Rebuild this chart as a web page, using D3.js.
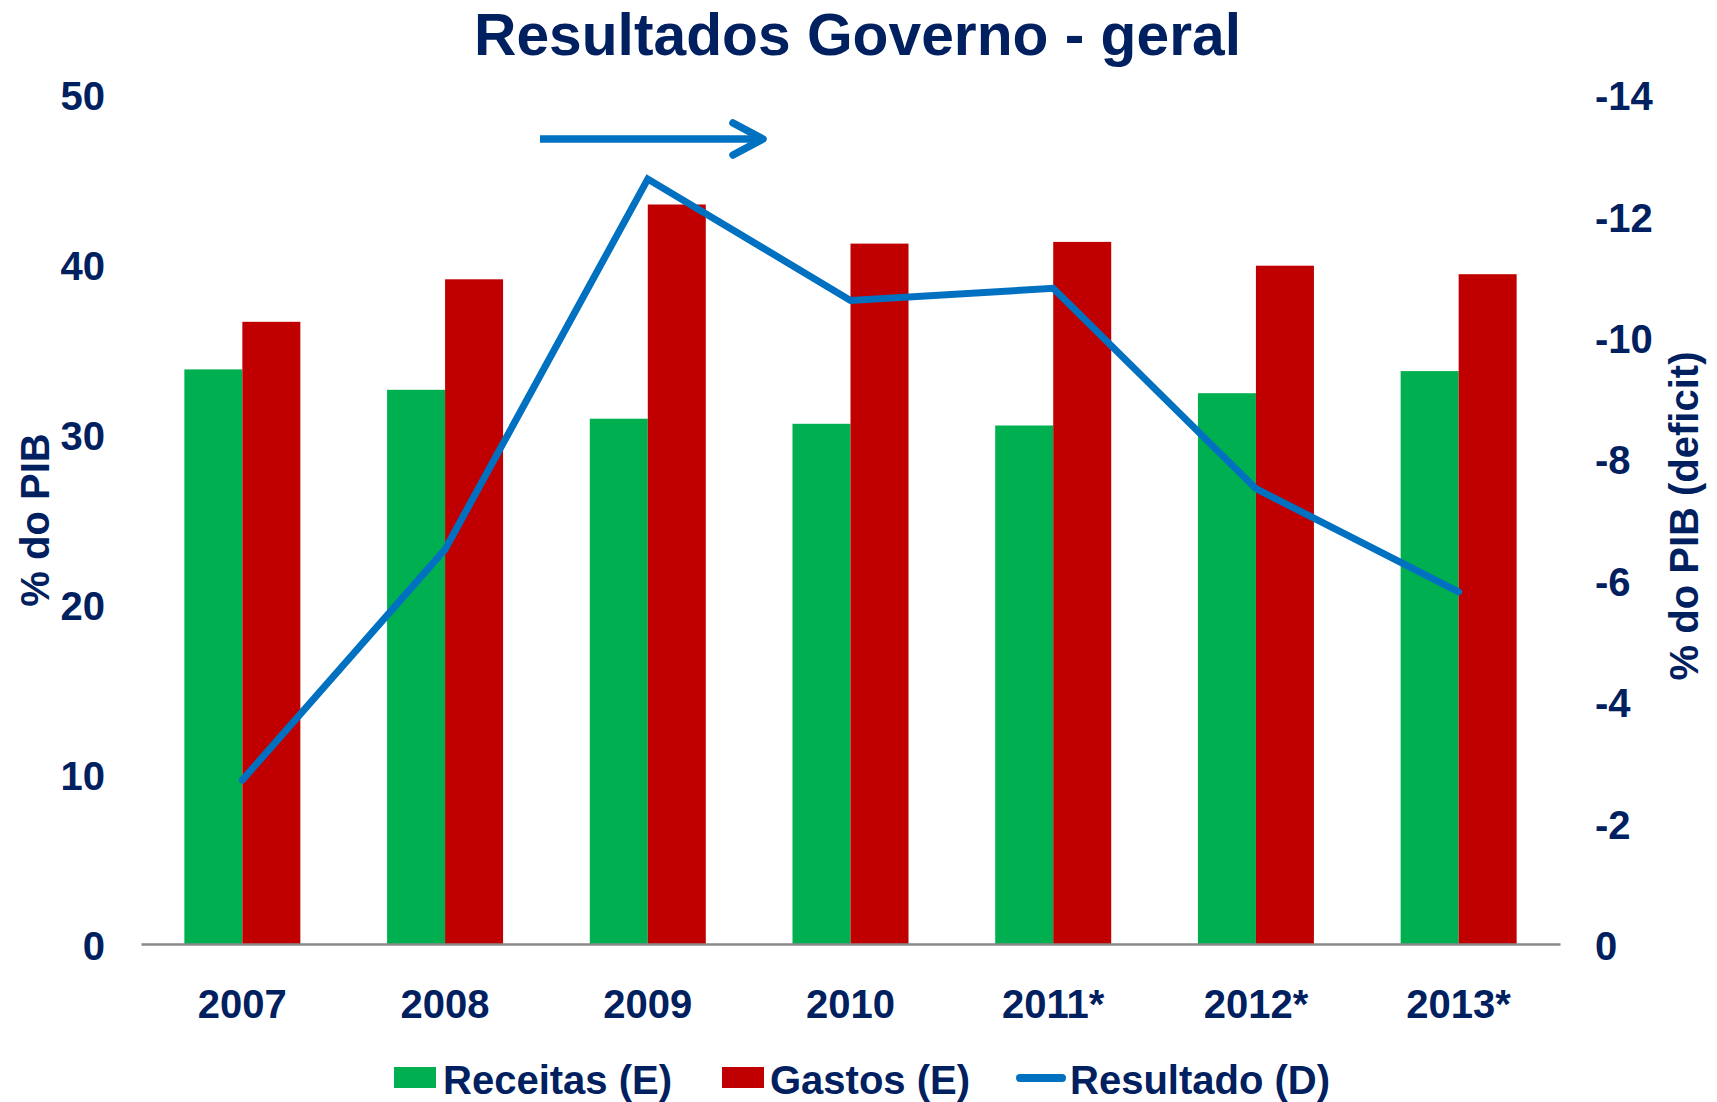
<!DOCTYPE html>
<html>
<head>
<meta charset="utf-8">
<script src="https://cdn.jsdelivr.net/npm/d3@7"></script>
<style>
  html, body { margin: 0; padding: 0; background: #ffffff; }
  svg { display: block; }
  text { font-family: "Liberation Sans", Arial, Helvetica, sans-serif; font-weight: bold; fill: #002060; }
</style>
</head>
<body>
<script>
// ---- data ----
const categories = ["2007", "2008", "2009", "2010", "2011*", "2012*", "2013*"];
const receitas = [33.8, 32.6, 30.9, 30.6, 30.5, 32.4, 33.7];
const gastos = [36.6, 39.1, 43.5, 41.2, 41.3, 39.9, 39.4];
const resultado = [-2.7, -6.5, -12.6, -10.6, -10.8, -7.5, -5.8];
const leftTicks = [0, 10, 20, 30, 40, 50];
const rightTicks = [0, -2, -4, -6, -8, -10, -12, -14];
const seriesNames = ["Receitas (E)", "Gastos (E)", "Resultado (D)"];
const titleText = "Resultados Governo - geral";
const leftTitle = "% do PIB";
const rightTitle = "% do PIB (deficit)";

const W = 1717, H = 1102;
const colGreen = "#00B050", colRed = "#C00000", colBlue = "#0070C0", colText = "#002060";

const svg = d3.select("body").append("svg").attr("width", W).attr("height", H);
svg.append("rect").attr("width", W).attr("height", H).attr("fill", "#fff");

const plotLeft = 141, plotRight = 1560, yBottom = 944, yTop = 94;

const x0 = d3.scaleBand().domain(categories).range([plotLeft, plotRight]).padding(0);
const bw = x0.bandwidth();
const groupW = 116;
const x1 = d3.scaleBand().domain(["r", "g"]).range([(bw - groupW) / 2, (bw + groupW) / 2]).padding(0);
const yL = d3.scaleLinear().domain([0, 50]).range([yBottom, yTop]);
const yR = d3.scaleLinear().domain([0, -14]).range([yBottom, yTop]);

// Title
svg.append("text").attr("x", 857.5).attr("y", 55).attr("text-anchor", "middle")
  .attr("font-size", 59).attr("textLength", 767).attr("lengthAdjust", "spacingAndGlyphs")
  .text(titleText);

// Bars
const gBars = svg.append("g");
categories.forEach((c, i) => {
  gBars.append("rect").attr("x", x0(c) + x1("r")).attr("y", yL(receitas[i]))
    .attr("width", x1.bandwidth()).attr("height", yL(0) - yL(receitas[i])).attr("fill", colGreen);
  gBars.append("rect").attr("x", x0(c) + x1("g")).attr("y", yL(gastos[i]))
    .attr("width", x1.bandwidth()).attr("height", yL(0) - yL(gastos[i])).attr("fill", colRed);
});

// Baseline axis
const xAxis = d3.axisBottom(x0).tickSize(0).tickPadding(0);
const gx = svg.append("g").attr("transform", `translate(0,${yBottom})`).call(xAxis);
gx.select(".domain").attr("stroke", "#898989").attr("stroke-width", 2.5);
gx.selectAll(".tick text").attr("y", 74).attr("dy", null).attr("font-size", 40)
  .attr("fill", colText).style("font-family", "'Liberation Sans', Arial, sans-serif").style("font-weight", "bold");

// Left axis
const gyl = svg.append("g").attr("transform", `translate(105,0)`)
  .call(d3.axisLeft(yL).tickValues(leftTicks).tickSize(0).tickPadding(0).tickFormat(d3.format("d")));
gyl.select(".domain").remove();
gyl.selectAll(".tick text").attr("x", 0).attr("dy", "0.39em").attr("font-size", 40).attr("fill", colText)
  .style("font-family", "'Liberation Sans', Arial, sans-serif").style("font-weight", "bold");

// Right axis
const gyr = svg.append("g").attr("transform", `translate(1595,0)`)
  .call(d3.axisRight(yR).tickValues(rightTicks).tickSize(0).tickPadding(0).tickFormat(d => d3.format("d")(d).replace("−", "-")));
gyr.select(".domain").remove();
gyr.selectAll(".tick text").attr("x", 0).attr("dy", "0.39em").attr("font-size", 40).attr("fill", colText)
  .style("font-family", "'Liberation Sans', Arial, sans-serif").style("font-weight", "bold");

// Axis titles
svg.append("text").attr("transform", "translate(49,520) rotate(-90)").attr("text-anchor", "middle")
  .attr("font-size", 40).text(leftTitle);
svg.append("text").attr("transform", "translate(1698,516) rotate(-90)").attr("text-anchor", "middle")
  .attr("font-size", 40).text(rightTitle);

// Line
const line = d3.line().x((d, i) => x0(categories[i]) + bw / 2).y(d => yR(d));
svg.append("path").datum(resultado).attr("d", line).attr("fill", "none")
  .attr("stroke", colBlue).attr("stroke-width", 7).attr("stroke-linejoin", "miter").attr("stroke-linecap", "round");

// Arrow annotation
const ga = svg.append("g").attr("stroke", colBlue).attr("fill", "none").attr("stroke-width", 7.5).attr("stroke-linecap", "round").attr("stroke-linejoin", "round");
ga.append("line").attr("x1", 540).attr("y1", 139).attr("x2", 762).attr("y2", 139).attr("stroke-linecap", "butt");
ga.append("polyline").attr("points", "733,123 763,139 733,155");

// Legend
const lg = svg.append("g");
lg.append("rect").attr("x", 394).attr("y", 1067).attr("width", 42).attr("height", 21).attr("fill", colGreen);
lg.append("text").attr("x", 443).attr("y", 1094).attr("font-size", 40).text(seriesNames[0]);
lg.append("rect").attr("x", 722).attr("y", 1067).attr("width", 42).attr("height", 21).attr("fill", colRed);
lg.append("text").attr("x", 770).attr("y", 1094).attr("font-size", 40).text(seriesNames[1]);
lg.append("line").attr("x1", 1020).attr("x2", 1062).attr("y1", 1078).attr("y2", 1078)
  .attr("stroke", colBlue).attr("stroke-width", 8).attr("stroke-linecap", "round");
lg.append("text").attr("x", 1070).attr("y", 1094).attr("font-size", 40).text(seriesNames[2]);
</script>
</body>
</html>
